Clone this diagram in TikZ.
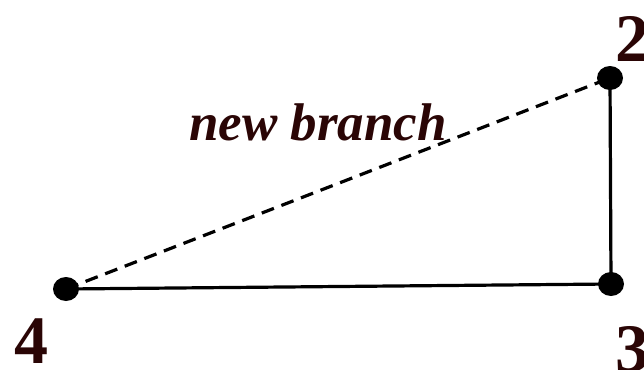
\documentclass[tikz,border=0pt]{standalone}
\usepackage{fontspec}
\setmainfont{Liberation Serif}
\usetikzlibrary{positioning,shapes.geometric}
\definecolor{labelbrown}{HTML}{2A0505}

\begin{document}
\begin{tikzpicture}[
    x=1pt, y=-1pt,
    vertex/.style={
      ellipse, fill=black, inner sep=0pt,
      minimum width=26pt, minimum height=24pt,
    },
    numlab/.style={
      text=labelbrown, font=\fontsize{68}{68}\selectfont\bfseries,
      inner sep=0pt,
    },
    edge/.style={draw=black, line width=3.2pt},
    newedge/.style={edge, dash pattern=on 13pt off 8pt},
    branchlab/.style={
      text=labelbrown, font=\fontsize{53}{53}\selectfont\bfseries\itshape,
      inner sep=0pt,
    },
  ]
  \useasboundingbox (0,0) rectangle (644,369);

  % --- vertices ---
  \node[vertex] (v2) at (610,78) {};
  \node[vertex] (v3) at (611,284) {};
  \node[vertex] (v4) at (66,289) {};

  % --- edges ---
  \draw[edge] (v4.center) -- (v3.center);
  \draw[edge] (v3.center) -- (v2.center);
  \draw[newedge] (v4.center) -- (v2.center);

  % --- labels ---
  \node[numlab, anchor=south west] (l2) at (615,62) {2};
  \node[numlab, anchor=south west] (l3) at (615,372) {3};
  \node[numlab, anchor=south west] (l4) at (14,364) {4};
  \node[branchlab] (nb) at (318,122) {new branch};
\end{tikzpicture}
\end{document}
